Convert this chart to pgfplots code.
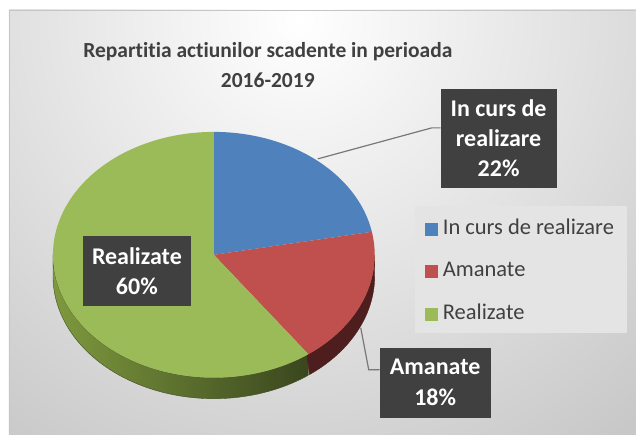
\documentclass[border=0pt]{standalone}
\usepackage{pgfplots}
\pgfplotsset{compat=1.18}
\usepackage{pgfplotstable}
\usepackage{fontspec}
\setmainfont{Carlito}[Ligatures=NoCommon]
\definecolor{cBlue}{RGB}{79,129,189}
\definecolor{cRed}{RGB}{192,80,77}
\definecolor{cGreen}{RGB}{155,187,89}
\definecolor{sideRed}{RGB}{78,29,29}
\definecolor{sideGL}{RGB}{126,153,62}
\definecolor{sideGM}{RGB}{62,76,32}
\definecolor{sideGR}{RGB}{58,70,30}
\definecolor{boxgray}{RGB}{64,64,64}
\definecolor{txtgray}{RGB}{64,64,64}
\definecolor{bgouter}{RGB}{196,196,196}
\definecolor{legbg}{RGB}{228,228,228}
\definecolor{leader}{RGB}{120,120,120}

\pgfplotstableread{
label value
Incurs 22
Amanate 18
Realizate 60
}\piedata
\pgfplotstablegetelem{0}{value}\of\piedata \edef\vA{\pgfplotsretval}
\pgfplotstablegetelem{1}{value}\of\piedata \edef\vB{\pgfplotsretval}
\pgfplotstablegetelem{2}{value}\of\piedata \edef\vC{\pgfplotsretval}
\pgfmathsetmacro\tA{3.6*\vA}
\pgfmathsetmacro\tB{3.6*(\vA+\vB)}
\pgfmathsetmacro\tC{3.6*(\vA+\vB+\vC)}
\pgfmathsetmacro\tBx{\tB+0.6}
\def\cx{214}\def\cy{255}\def\ra{161}\def\rb{123}\def\hh{21}

\begin{document}
\begin{tikzpicture}
\begin{axis}[
  width=636pt, height=435pt, scale only axis,
  xmin=0, xmax=636, ymin=0, ymax=435, y dir=reverse,
  hide axis, clip=false,
  legend style={at={(axis cs:425,218)}, anchor=north west, fill=none, draw=none,
    font=\fontsize{22.5}{26}\selectfont, text=txtgray,
    nodes={inner sep=2pt, text height=14pt, text depth=4pt},
    row sep=21pt, inner sep=0pt},
  legend cell align=left,
  legend image code/.code={\path[#1] (0pt,-6.5pt) rectangle (13pt,6.5pt);
    \path (16pt,0pt);},
]
% background
\fill[white] (axis cs:0,0) rectangle (axis cs:636,435);
\begin{scope}
\clip (axis cs:9,10) rectangle (axis cs:636,435);
\fill[bgouter] (axis cs:9,10) rectangle (axis cs:636,435);
\shade[inner color=white, outer color=bgouter] (axis cs:300,20) circle (560pt);
\end{scope}
\draw[gray!45, line width=1pt] (axis cs:9.5,10.5) -- (axis cs:636,10.5);
\draw[gray!45, line width=1pt] (axis cs:9.5,10.5) -- (axis cs:9.5,435);
% legend background
\fill[legbg] (axis cs:415,206) rectangle (axis cs:627,333);

% title
\node[font=\bfseries\fontsize{21.5}{30}\selectfont, text=txtgray, align=center] at (axis cs:268,65)
  {Repartitia actiunilor scadente in perioada\\2016-2019};

% side walls
\addplot[draw=sideGM, line width=0.4pt, left color=sideGL, middle color=sideGM, right color=sideGR,
  domain=0:2, samples=141, variable=\u, forget plot]
 ({\cx+\ra*sin(\tB+(270-\tB)*(1-abs(1-\u)))},
  {\cy-\rb*cos(\tB+(270-\tB)*(1-abs(1-\u)))+\hh*(\u>1)}) -- cycle;
\addplot[draw=sideRed, line width=0.4pt, fill=sideRed, domain=0:2, samples=101, variable=\u, forget plot]
 ({\cx+\ra*sin(90+(\tBx-90)*(1-abs(1-\u)))},
  {\cy-\rb*cos(90+(\tBx-90)*(1-abs(1-\u)))+\hh*(\u>1)}) -- cycle;

% top slices
\addplot[draw=none, fill=cBlue, domain=0:\tA, samples=60, variable=\t]
 ({\cx+\ra*sin(\t)},{\cy-\rb*cos(\t)}) -- (axis cs:\cx,\cy) -- cycle;
\addplot[draw=none, fill=cRed, domain=\tA:\tB, samples=50, variable=\t]
 ({\cx+\ra*sin(\t)},{\cy-\rb*cos(\t)}) -- (axis cs:\cx,\cy) -- cycle;
\addplot[draw=none, fill=cGreen, domain=\tB:\tC, samples=120, variable=\t]
 ({\cx+\ra*sin(\t)},{\cy-\rb*cos(\t)}) -- (axis cs:\cx,\cy) -- cycle;
\legend{In curs de realizare, Amanate, Realizate}

% leader lines
\draw[leader, line width=1.2pt] (axis cs:318,159) -- (axis cs:432,128) -- (axis cs:441,128);
\draw[leader, line width=1.2pt] (axis cs:361,328) -- (axis cs:369,370) -- (axis cs:380,370);

% data labels
\node[fill=boxgray, text=white, font=\bfseries\fontsize{24}{30}\selectfont, align=center,
  minimum width=116pt, minimum height=99pt, inner sep=0pt] at (axis cs:499,138.5)
  {In curs de\\realizare\\22\%};
\node[fill=boxgray, text=white, font=\bfseries\fontsize{24}{31}\selectfont, align=center,
  minimum width=111pt, minimum height=70pt, inner sep=0pt] at (axis cs:435.5,383)
  {Amanate\\18\%};
\node[fill=boxgray, text=white, font=\bfseries\fontsize{24}{30}\selectfont, align=center,
  minimum width=108pt, minimum height=70pt, inner sep=0pt] at (axis cs:137,271)
  {Realizate\\60\%};
\end{axis}
\end{tikzpicture}
\end{document}
